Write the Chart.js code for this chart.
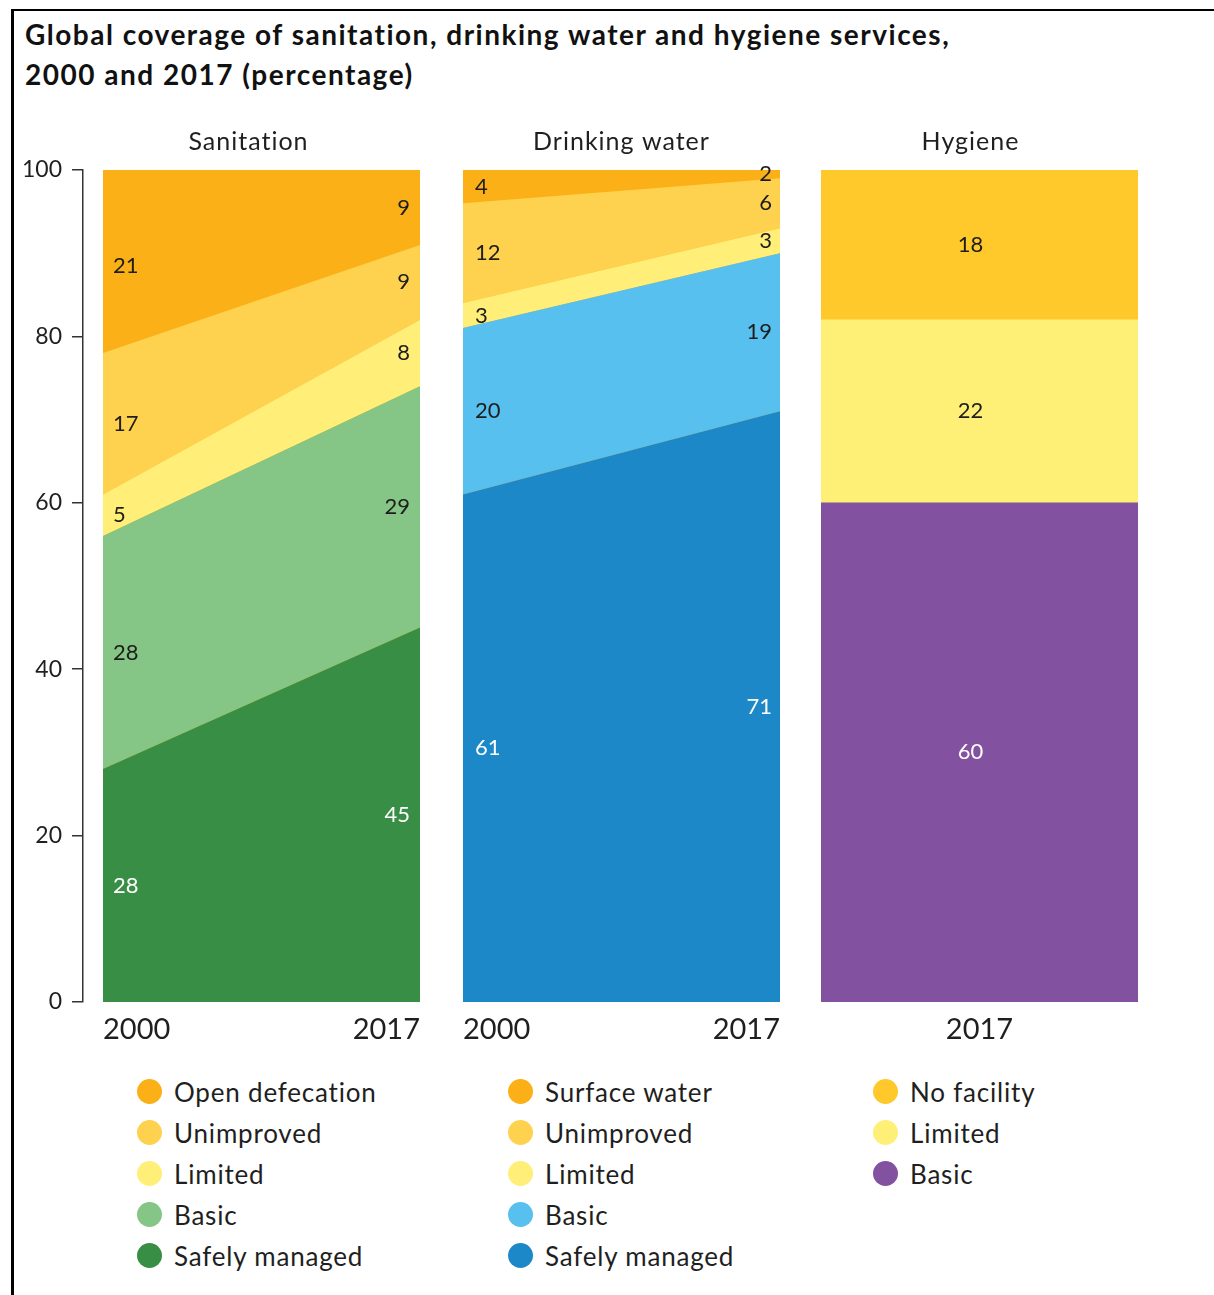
<!DOCTYPE html>
<html>
<head>
<meta charset="utf-8">
<title>Global coverage of sanitation, drinking water and hygiene services</title>
<script src="https://cdn.jsdelivr.net/npm/chart.js@4.4.1/dist/chart.umd.min.js"></script>
<style>
  html, body { margin: 0; padding: 0; background: #fff; }
  body { width: 1214px; height: 1295px; position: relative; overflow: hidden; font-family: Lato, "Noto Sans", sans-serif; }
  #frame { position: absolute; left: 11px; top: 9px; right: -20px; bottom: -20px; border-top: 2px solid #000; border-left: 3px solid #000; }
  h1 { position: absolute; left: 25px; top: 14px; margin: 0; font-size: 28px; font-weight: 700; line-height: 40px; letter-spacing: 1.5px; color: #111; white-space: nowrap; }
  .panel { position: absolute; top: 120px; }
  .panel canvas { display: block; }
  .legend { position: absolute; top: 1071px; list-style: none; margin: 0; padding: 0; }
  .legend li { height: 41px; display: flex; align-items: center; font-size: 26px; letter-spacing: 0.8px; color: #1f1f1f; white-space: nowrap; }
  .legend i { width: 25px; height: 25px; border-radius: 50%; margin-right: 12px; display: inline-block; flex: none; }
</style>
</head>
<body>
<div id="frame"></div>
<h1>Global coverage of sanitation, drinking water and hygiene services,<br>2000 and 2017 (percentage)</h1>

<div class="panel" style="left:0px"><canvas id="axisChart" width="95" height="932"></canvas></div>
<div class="panel" style="left:103px"><canvas id="sanitationChart" width="317" height="932"></canvas></div>
<div class="panel" style="left:463px"><canvas id="waterChart" width="317" height="932"></canvas></div>
<div class="panel" style="left:821px"><canvas id="hygieneChart" width="317" height="932"></canvas></div>

<ul class="legend" id="sanitationLegend" style="left:137px"></ul>
<ul class="legend" id="waterLegend" style="left:508px"></ul>
<ul class="legend" id="hygieneLegend" style="left:873px"></ul>

<script>
// ---- Data (stacks listed bottom first) ----
const years = ['2000', '2017'];
const hygieneYears = ['2017'];
const panelTitles = ['Sanitation', 'Drinking water', 'Hygiene'];
const yTicks = [0, 20, 40, 60, 80, 100];

const sanitationNames = ['Safely managed', 'Basic', 'Limited', 'Unimproved', 'Open defecation'];
const sanitationSafelyManaged = [28, 45];
const sanitationBasic = [28, 29];
const sanitationLimited = [5, 8];
const sanitationUnimproved = [17, 9];
const sanitationOpenDefecation = [21, 9];

const waterNames = ['Safely managed', 'Basic', 'Limited', 'Unimproved', 'Surface water'];
const waterSafelyManaged = [61, 71];
const waterBasic = [20, 19];
const waterLimited = [3, 3];
const waterUnimproved = [12, 6];
const waterSurface = [4, 2];

const hygieneNames = ['Basic', 'Limited', 'No facility'];
const hygieneBasic = [60];
const hygieneLimited = [22];
const hygieneNoFacility = [18];

// ---- Styles ----
const sanitationColors = ['#388e45', '#85c687', '#ffee77', '#fed14e', '#fcb017'];
const waterColors = ['#1c88c8', '#57c0ee', '#ffee77', '#fed14e', '#fcb017'];
const hygieneColors = ['#8251a0', '#fef076', '#ffc92b'];
const sanitationTextColors = ['#ffffff', '#1d1d1b', '#1d1d1b', '#1d1d1b', '#1d1d1b'];
const waterTextColors = ['#ffffff', '#1d1d1b', '#1d1d1b', '#1d1d1b', '#1d1d1b'];
const hygieneTextColors = ['#ffffff', '#1d1d1b', '#1d1d1b'];
const FONT = 'Lato, "Noto Sans", sans-serif';

Chart.defaults.font.family = FONT;

// The top band of each stack takes whatever share the rounded figures leave over.
const remainderFill = {
  id: 'remainderFill',
  beforeDatasetsDraw(chart) {
    const sets = chart.data.datasets;
    const a = chart.chartArea;
    const ctx = chart.ctx;
    ctx.save();
    ctx.fillStyle = sets[sets.length - 1].backgroundColor;
    ctx.fillRect(a.left, a.top, a.right - a.left, a.bottom - a.top);
    ctx.restore();
  }
};

// Value printed in the middle of each band, at each end of the panel.
const valueLabels = {
  id: 'valueLabels',
  afterDatasetsDraw(chart, args, opts) {
    const { ctx, chartArea: a, scales: { x, y } } = chart;
    const sets = chart.data.datasets;
    const n = chart.data.labels.length;
    ctx.save();
    ctx.font = opts.size + 'px ' + FONT;
    ctx.textBaseline = 'middle';
    for (let i = 0; i < n; i++) {
      let base = 0;
      sets.forEach((ds) => {
        const v = ds.data[i];
        const top = Math.min(base + v, y.max);
        const py = y.getPixelForValue((base + top) / 2);
        base += v;
        let px;
        if (n === 1) {
          ctx.textAlign = 'center';
          px = x.getPixelForValue(i) + opts.shift;
        } else if (i === 0) {
          ctx.textAlign = 'left';
          px = a.left + opts.inset[0];
        } else {
          ctx.textAlign = 'right';
          px = a.right - opts.inset[1];
        }
        ctx.fillStyle = ds.labelColor;
        ctx.fillText(String(v), px, py);
      });
    }
    ctx.restore();
  }
};

// Panel heading above the plot area.
const panelTitle = {
  id: 'panelTitle',
  afterDraw(chart, args, opts) {
    if (!opts.text) return;
    const { ctx, chartArea: a } = chart;
    ctx.save();
    ctx.font = '25px ' + FONT;
    if ('letterSpacing' in ctx) ctx.letterSpacing = '1px';
    ctx.fillStyle = '#1f1f1f';
    ctx.textAlign = 'center';
    ctx.textBaseline = 'middle';
    ctx.fillText(opts.text, (a.left + a.right) / 2 + (opts.shift || 0), a.top - 28);
    ctx.restore();
  }
};

const baseOptions = {
  responsive: false,
  animation: false,
  devicePixelRatio: 1,
  layout: { padding: { top: 50, left: 0, right: 0, bottom: 0 } }
};

// Year labels under the panels; spacing comes from the (hidden) tick length so the
// plot area keeps the full panel width.
const xAxis = (offset, align) => ({
  offset: offset,
  stacked: true,
  grid: { display: false, drawTicks: true, tickLength: 10 },
  border: { display: false },
  ticks: { align: align, maxRotation: 0, autoSkip: false, padding: 0, color: '#1f1f1f', font: { size: 29 } },
  afterFit: (s) => { s.height = 50; }
});

function areaChart(id, names, series, colors, textColors, title, titleShift, inset) {
  return new Chart(document.getElementById(id), {
    type: 'line',
    data: {
      labels: years,
      datasets: series.map((d, k) => ({
        label: names[k],
        data: d,
        backgroundColor: colors[k],
        borderColor: 'transparent',
        borderWidth: 0,
        pointRadius: 0,
        tension: 0,
        fill: k === 0 ? 'origin' : '-1',
        labelColor: textColors[k]
      }))
    },
    options: Object.assign({}, baseOptions, {
      plugins: {
        legend: { display: false },
        tooltip: { enabled: false },
        valueLabels: { size: 22, inset: inset, shift: 0 },
        panelTitle: { text: title, shift: titleShift }
      },
      scales: {
        x: xAxis(false, 'inner'),
        y: { display: false, stacked: true, min: 0, max: 100 }
      }
    }),
    plugins: [remainderFill, valueLabels, panelTitle]
  });
}

// Shared percentage axis
new Chart(document.getElementById('axisChart'), {
  type: 'line',
  data: { labels: [], datasets: [] },
  options: Object.assign({}, baseOptions, {
    layout: { padding: { top: 50, bottom: 50, left: 0, right: 0 } },
    plugins: { legend: { display: false }, tooltip: { enabled: false } },
    scales: {
      x: { display: false },
      y: {
        min: 0, max: 100,
        afterBuildTicks: (s) => { s.ticks = yTicks.map((v) => ({ value: v })); },
        afterFit: (s) => { s.width = 83; },
        grid: { drawOnChartArea: false, drawTicks: true, tickLength: 11, color: '#333', lineWidth: 1.5 },
        border: { display: true, color: '#333', width: 1.5 },
        ticks: { padding: 10, color: '#1f1f1f', font: { size: 23 } }
      }
    }
  })
});

areaChart('sanitationChart', sanitationNames,
  [sanitationSafelyManaged, sanitationBasic, sanitationLimited, sanitationUnimproved, sanitationOpenDefecation],
  sanitationColors, sanitationTextColors, panelTitles[0], -13, [10, 10]);

areaChart('waterChart', waterNames,
  [waterSafelyManaged, waterBasic, waterLimited, waterUnimproved, waterSurface],
  waterColors, waterTextColors, panelTitles[1], 0, [12, 8]);

new Chart(document.getElementById('hygieneChart'), {
  type: 'bar',
  data: {
    labels: hygieneYears,
    datasets: [hygieneBasic, hygieneLimited, hygieneNoFacility].map((d, k) => ({
      label: hygieneNames[k],
      data: d,
      backgroundColor: hygieneColors[k],
      borderWidth: 0,
      barPercentage: 1,
      categoryPercentage: 1,
      labelColor: hygieneTextColors[k]
    }))
  },
  options: Object.assign({}, baseOptions, {
    plugins: {
      legend: { display: false },
      tooltip: { enabled: false },
      valueLabels: { size: 22, inset: [0, 0], shift: -9 },
      panelTitle: { text: panelTitles[2], shift: -9 }
    },
    scales: {
      x: xAxis(true, 'center'),
      y: { display: false, stacked: true, min: 0, max: 100 }
    }
  }),
  plugins: [valueLabels, panelTitle]
});

// Legends list the top band first, as stacked in the panels.
function fillLegend(id, names, colors) {
  const ul = document.getElementById(id);
  for (let k = names.length - 1; k >= 0; k--) {
    const li = document.createElement('li');
    const dot = document.createElement('i');
    dot.style.background = colors[k];
    li.appendChild(dot);
    li.appendChild(document.createTextNode(names[k]));
    ul.appendChild(li);
  }
}
fillLegend('sanitationLegend', sanitationNames, sanitationColors);
fillLegend('waterLegend', waterNames, waterColors);
fillLegend('hygieneLegend', hygieneNames, hygieneColors);
</script>
</body>
</html>
